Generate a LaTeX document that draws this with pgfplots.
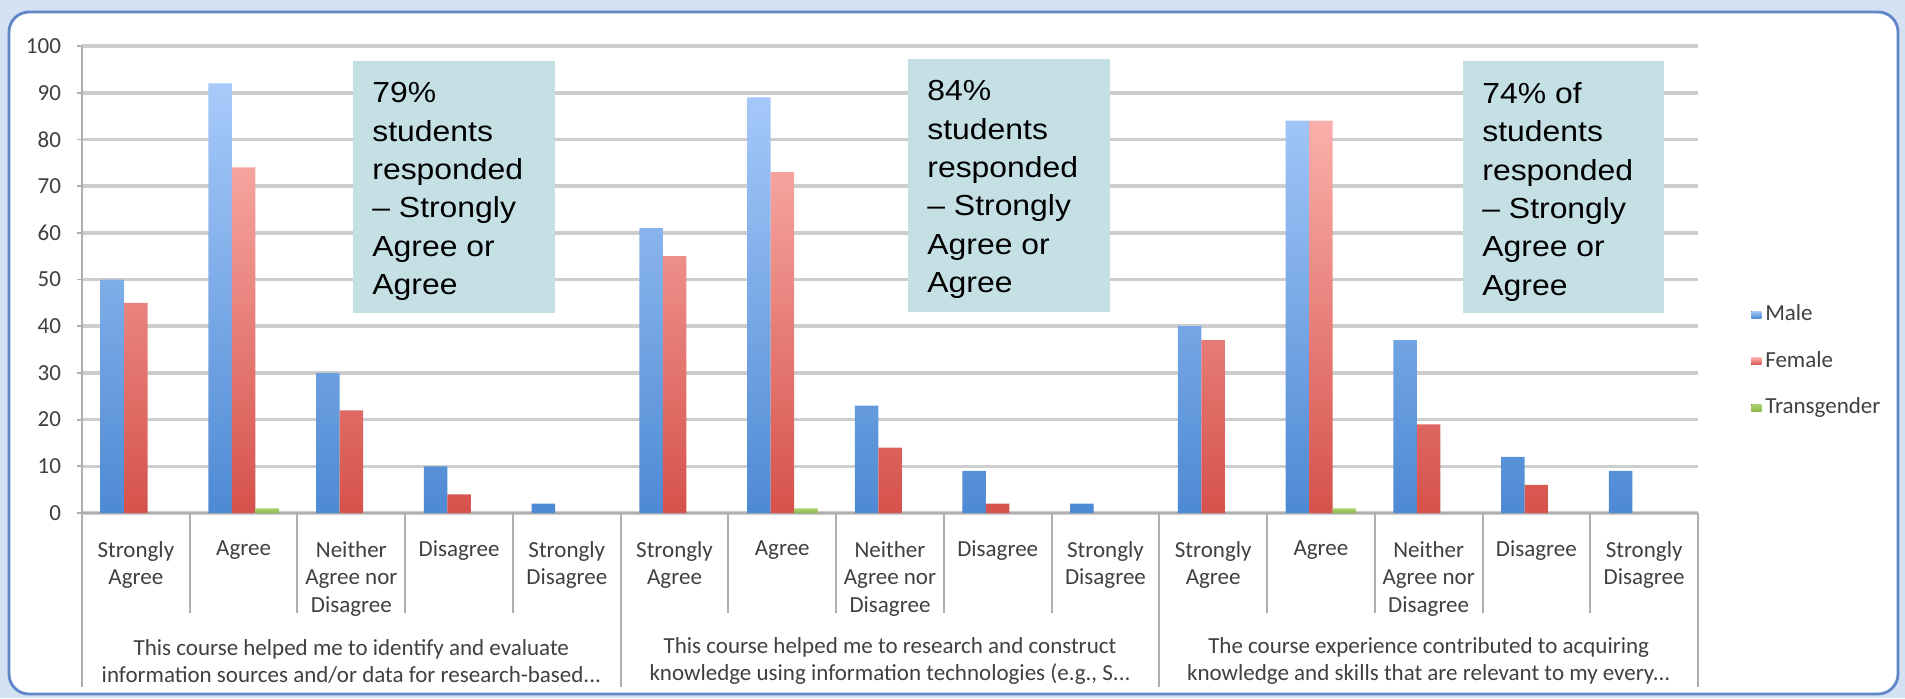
\documentclass[border=0pt]{standalone}
\usepackage{pgfplots}
\pgfplotsset{compat=1.18}
\usepackage{fontspec}
\setmainfont{Carlito}
\newfontfamily\arialf[FakeStretch=1.1]{Liberation Sans}
\definecolor{maleTop}{RGB}{168,202,250}
\definecolor{maleBot}{RGB}{78,138,212}
\definecolor{femTop}{RGB}{250,175,170}
\definecolor{femBot}{RGB}{214,82,76}
\definecolor{greenT}{RGB}{170,210,110}
\definecolor{greenB}{RGB}{140,185,70}
\definecolor{gridc}{RGB}{205,205,205}
\definecolor{axc}{RGB}{175,175,175}
\definecolor{labc}{RGB}{64,64,64}
\definecolor{boxc}{RGB}{196,224,229}
\definecolor{framec}{RGB}{95,135,200}
\definecolor{sheetbg}{RGB}{212,225,242}
\begin{document}
\begin{tikzpicture}
\useasboundingbox (0,0) rectangle (952.5pt,349pt);
\fill[sheetbg] (0,0) rectangle (952.5pt,349pt);
\filldraw[fill=white, draw=framec, line width=1.4pt, rounded corners=10pt] (4.5pt,2pt) rectangle (949pt,343pt);
\begin{axis}[
  at={(41pt,92.5pt)}, anchor=south west,
  scale only axis, width=808pt, height=233.5pt,
  xmin=-0.5, xmax=14.5, ymin=0, ymax=100,
  ybar=0pt, bar width=11.75pt,
  ytick={0,10,...,100},
  ymajorgrids, grid style={draw=gridc, line width=1.8pt},
  axis x line*=bottom, axis y line*=left,
  axis line style={-, draw=axc, line width=0.9pt},
  xtick={0,...,14},
  xticklabels={{Strongly\\Agree},{Agree},{Neither\\Agree nor\\Disagree},{Disagree},{Strongly\\Disagree},
               {Strongly\\Agree},{Agree},{Neither\\Agree nor\\Disagree},{Disagree},{Strongly\\Disagree},
               {Strongly\\Agree},{Agree},{Neither\\Agree nor\\Disagree},{Disagree},{Strongly\\Disagree}},
  xtick style={draw=none},
  ytick style={draw=axc, line width=0.9pt},
  tick align=outside, major tick length=2.5pt,
  xticklabel style={align=center, anchor=north, font=\fontsize{11.5}{13.8}\selectfont, text=labc, yshift=-8pt},
  yticklabel style={font=\fontsize{11.5}{13}\selectfont, text=labc, xshift=-4.5pt},
  /pgf/number format/assume math mode=true,
  clip=false,
  legend style={at={(1.029,0.455)}, anchor=north west, draw=none, fill=none,
    font=\fontsize{11.5}{13}\selectfont, text=labc, row sep=13.5pt,
    nodes={inner sep=0pt, text height=8pt, text depth=1.75pt},
    /tikz/every odd column/.style={column sep=2pt}},
  legend cell align=left,
  legend image code/.code={\fill[#1] (0pt,-1.8pt) rectangle (5pt,1.8pt);},
]
\addplot[draw=none, top color=maleTop, bottom color=maleBot] coordinates {
  (0,50) (1,92) (2,30) (3,10) (4,2)
  (5,61) (6,89) (7,23) (8,9) (9,2)
  (10,40) (11,84) (12,37) (13,12) (14,9)};
\addplot[draw=none, top color=femTop, bottom color=femBot] coordinates {
  (0,45) (1,74) (2,22) (3,4)
  (5,55) (6,73) (7,14) (8,2)
  (10,37) (11,84) (12,19) (13,6)};
\addplot[draw=none, top color=greenT, bottom color=greenB] coordinates {
  (1,1) (6,1) (11,1)};
\legend{Male,Female,Transgender}
\end{axis}
% category separators
\foreach \i in {0,...,15} \draw[axc, line width=1pt] ({41pt+\i*53.8667pt},92.5pt) -- ++(0,-50pt);
\foreach \i in {0,5,10,15} \draw[axc, line width=1pt] ({41pt+\i*53.8667pt},42.5pt) -- ++(0,-37pt);
% group labels
\node[align=center, text=labc, font=\fontsize{11.5}{13.5}\selectfont] at (175.67pt,18.5pt)
  {This course helped me to identify and evaluate\\information sources and/or data for research-based...};
\node[align=center, text=labc, font=\fontsize{11.5}{13.5}\selectfont] at (445pt,18.5pt)
  {This course helped me to research and construct\\knowledge using information technologies (e.g., S...};
\node[align=center, text=labc, font=\fontsize{11.5}{13.5}\selectfont] at (714.33pt,18.5pt)
  {The course experience contributed to acquiring\\knowledge and skills that are relevant to my every...};
% annotation boxes
\fill[boxc] (176.5pt,192.5pt) rectangle (277.5pt,318.5pt);
\node[anchor=north west, inner sep=0pt, align=left, font=\arialf\fontsize{14.5}{19.2}\selectfont] at (186pt,308pt)
  {79\%\\students\\responded\\– Strongly\\Agree or\\Agree};
\fill[boxc] (454pt,193pt) rectangle (555pt,319.5pt);
\node[anchor=north west, inner sep=0pt, align=left, font=\arialf\fontsize{14.5}{19.2}\selectfont] at (463.5pt,309pt)
  {84\%\\students\\responded\\– Strongly\\Agree or\\Agree};
\fill[boxc] (731.5pt,192.5pt) rectangle (832pt,318.5pt);
\node[anchor=north west, inner sep=0pt, align=left, font=\arialf\fontsize{14.5}{19.2}\selectfont] at (741pt,308pt)
  {74\% of\\students\\responded\\– Strongly\\Agree or\\Agree};
\end{tikzpicture}
\end{document}
